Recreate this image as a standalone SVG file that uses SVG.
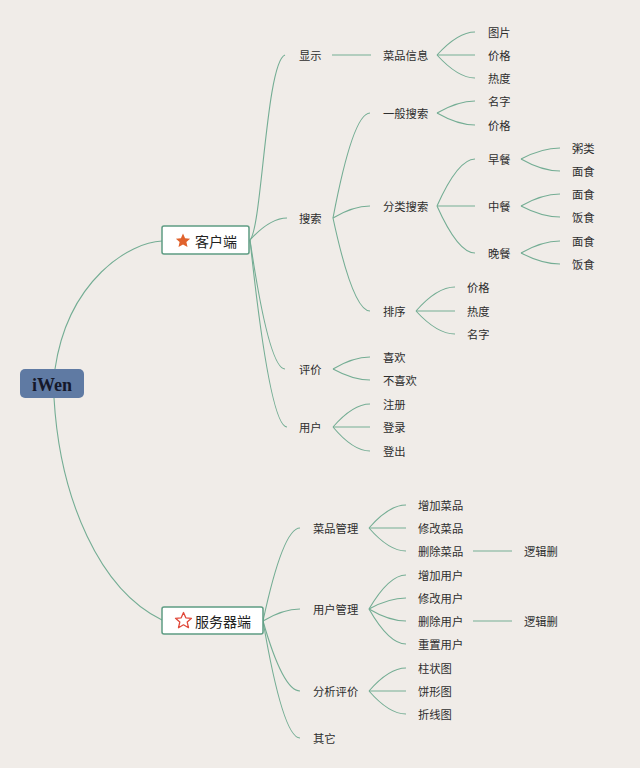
<svg xmlns="http://www.w3.org/2000/svg" width="640" height="768" viewBox="0 0 640 768">
<style>
.c{fill:none;stroke:#74ad94;stroke-width:1.1}
.t{font-family:"Noto Sans CJK SC","Noto Sans",sans-serif;font-size:11.3px;fill:#2e2e2e;dominant-baseline:central}
.m{font-family:"Noto Sans CJK SC","Noto Sans",sans-serif;font-size:14px;fill:#222;dominant-baseline:central}
.box{fill:#fff;stroke:#5e9c83;stroke-width:1.5}
</style>
<rect width="640" height="768" fill="#f0ece8"/>
<g id="connectors">
<path class="c" d="M55,369 C68,280 130,242 162,241"/>
<path class="c" d="M54,398 C60,500 100,590 162,620"/>
<path class="c" d="M250,240 C262,228 266,62 285,55"/>
<path class="c" d="M250,240 Q270,218 287,218"/>
<path class="c" d="M250,240 Q269,369 285,369"/>
<path class="c" d="M250,240 Q270,427 287,427"/>
<path class="c" d="M332,55 L371,55"/>
<path class="c" d="M437,55 Q458,32 475,32"/>
<path class="c" d="M437,55 L475,55"/>
<path class="c" d="M437,55 Q458,78 475,78"/>
<path class="c" d="M333,218 Q353,113 370,113"/>
<path class="c" d="M333,218 Q353,206 370,206"/>
<path class="c" d="M333,218 Q353,311 370,311"/>
<path class="c" d="M437,113 Q458,101 475,101"/>
<path class="c" d="M437,113 Q458,125 475,125"/>
<path class="c" d="M437,206 Q458,159 475,159"/>
<path class="c" d="M437,206 L475,206"/>
<path class="c" d="M437,206 Q458,253 475,253"/>
<path class="c" d="M521,159 Q542,148 560,148"/>
<path class="c" d="M521,159 Q542,171 560,171"/>
<path class="c" d="M521,206 Q542,194 560,194"/>
<path class="c" d="M521,206 Q542,217 560,217"/>
<path class="c" d="M521,253 Q542,241 560,241"/>
<path class="c" d="M521,253 Q542,264 560,264"/>
<path class="c" d="M416,311 Q437,287 455,287"/>
<path class="c" d="M416,311 L455,311"/>
<path class="c" d="M416,311 Q437,334 455,334"/>
<path class="c" d="M333,369 Q353,357 370,357"/>
<path class="c" d="M333,369 Q353,380 370,380"/>
<path class="c" d="M333,427 Q353,404 370,404"/>
<path class="c" d="M333,427 L370,427"/>
<path class="c" d="M333,427 Q353,451 370,451"/>
<path class="c" d="M263,621 Q283,528 300,528"/>
<path class="c" d="M263,621 Q283,609 300,609"/>
<path class="c" d="M263,621 Q283,691 300,691"/>
<path class="c" d="M263,621 Q283,738 300,738"/>
<path class="c" d="M369,528 Q389,505 406,505"/>
<path class="c" d="M369,528 L406,528"/>
<path class="c" d="M369,528 Q389,551 406,551"/>
<path class="c" d="M369,609 Q389,575 406,575"/>
<path class="c" d="M369,609 Q389,598 406,598"/>
<path class="c" d="M369,609 Q389,621 406,621"/>
<path class="c" d="M369,609 Q389,644 406,644"/>
<path class="c" d="M369,691 Q389,668 406,668"/>
<path class="c" d="M369,691 L406,691"/>
<path class="c" d="M369,691 Q389,714 406,714"/>
<path class="c" d="M473,551 L512,551"/>
<path class="c" d="M473,621 L512,621"/>
</g>
<g id="root">
<rect x="20" y="369" width="64" height="29" rx="5" fill="#5f7aa3"/>
<text x="52" y="385" text-anchor="middle" font-family="Liberation Serif,serif" font-weight="bold" font-size="18" fill="#15182a" dominant-baseline="central">iWen</text>
</g>
<g id="client">
<rect class="box" x="162" y="226" width="87" height="28" rx="2"/>
<polygon points="183,233.5 185.1,238.2 190.1,238.7 186.4,242.1 187.5,247 183,244.4 178.5,247 179.6,242.1 175.9,238.7 180.9,238.2" fill="#e0622c"/>
<text class="m" x="195" y="241">客户端</text>
</g>
<g id="server">
<rect class="box" x="162" y="607" width="101" height="27" rx="2"/>
<polygon points="183.5,612.5 185.8,617.8 191.5,618.3 187.2,622.1 188.5,627.7 183.5,624.8 178.5,627.7 179.8,622.1 175.5,618.3 181.2,617.8" fill="none" stroke="#e0483a" stroke-width="1.3" stroke-linejoin="round"/>
<text class="m" x="195" y="621">服务器端</text>
</g>
<g id="n-xianshi"><text class="t" x="299" y="55">显示</text></g>
<g id="n-caipinxinxi"><text class="t" x="383" y="55">菜品信息</text></g>
<g id="n-tupian"><text class="t" x="488" y="32">图片</text></g>
<g id="n-jiage1"><text class="t" x="488" y="55">价格</text></g>
<g id="n-redu1"><text class="t" x="488" y="78">热度</text></g>
<g id="n-sousuo"><text class="t" x="299" y="218">搜索</text></g>
<g id="n-yiban"><text class="t" x="383" y="113">一般搜索</text></g>
<g id="n-mingzi1"><text class="t" x="488" y="101">名字</text></g>
<g id="n-jiage2"><text class="t" x="488" y="125">价格</text></g>
<g id="n-fenlei"><text class="t" x="383" y="206">分类搜索</text></g>
<g id="n-zaocan"><text class="t" x="488" y="159">早餐</text></g>
<g id="n-zhongcan"><text class="t" x="488" y="206">中餐</text></g>
<g id="n-wancan"><text class="t" x="488" y="253">晚餐</text></g>
<g id="n-zhou"><text class="t" x="572" y="148">粥类</text></g>
<g id="n-mian1"><text class="t" x="572" y="171">面食</text></g>
<g id="n-mian2"><text class="t" x="572" y="194">面食</text></g>
<g id="n-fan1"><text class="t" x="572" y="217">饭食</text></g>
<g id="n-mian3"><text class="t" x="572" y="241">面食</text></g>
<g id="n-fan2"><text class="t" x="572" y="264">饭食</text></g>
<g id="n-paixu"><text class="t" x="383" y="311">排序</text></g>
<g id="n-jiage3"><text class="t" x="467" y="287">价格</text></g>
<g id="n-redu2"><text class="t" x="467" y="311">热度</text></g>
<g id="n-mingzi2"><text class="t" x="467" y="334">名字</text></g>
<g id="n-pingjia"><text class="t" x="299" y="369">评价</text></g>
<g id="n-xihuan"><text class="t" x="383" y="357">喜欢</text></g>
<g id="n-buxihuan"><text class="t" x="383" y="380">不喜欢</text></g>
<g id="n-yonghu"><text class="t" x="299" y="427">用户</text></g>
<g id="n-zhuce"><text class="t" x="383" y="404">注册</text></g>
<g id="n-denglu"><text class="t" x="383" y="427">登录</text></g>
<g id="n-dengchu"><text class="t" x="383" y="451">登出</text></g>
<g id="n-caipinguanli"><text class="t" x="313" y="528">菜品管理</text></g>
<g id="n-zengjiacaipin"><text class="t" x="418" y="505">增加菜品</text></g>
<g id="n-xiugaicaipin"><text class="t" x="418" y="528">修改菜品</text></g>
<g id="n-shanchucaipin"><text class="t" x="418" y="551">删除菜品</text></g>
<g id="n-luoji1"><text class="t" x="524" y="551">逻辑删</text></g>
<g id="n-yonghuguanli"><text class="t" x="313" y="609">用户管理</text></g>
<g id="n-zengjiayonghu"><text class="t" x="418" y="575">增加用户</text></g>
<g id="n-xiugaiyonghu"><text class="t" x="418" y="598">修改用户</text></g>
<g id="n-shanchuyonghu"><text class="t" x="418" y="621">删除用户</text></g>
<g id="n-luoji2"><text class="t" x="524" y="621">逻辑删</text></g>
<g id="n-chongzhi"><text class="t" x="418" y="644">重置用户</text></g>
<g id="n-fenxi"><text class="t" x="313" y="691">分析评价</text></g>
<g id="n-zhuzhuang"><text class="t" x="418" y="668">柱状图</text></g>
<g id="n-bingxing"><text class="t" x="418" y="691">饼形图</text></g>
<g id="n-zhexian"><text class="t" x="418" y="714">折线图</text></g>
<g id="n-qita"><text class="t" x="313" y="738">其它</text></g>
</svg>
